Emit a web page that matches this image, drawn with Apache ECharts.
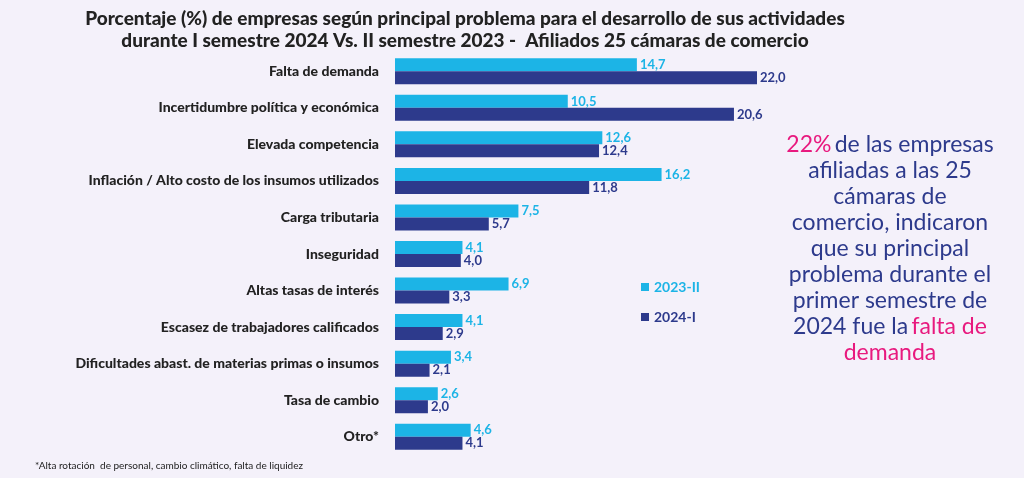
<!DOCTYPE html>
<html><head><meta charset="utf-8">
<script src="https://cdn.jsdelivr.net/npm/echarts@6/dist/echarts.min.js"></script>
<style>html,body{margin:0;padding:0;background:#f4f1fa}#c{width:1024px;height:478px}</style>
</head><body><div id="c"></div>
<script>
const categories=["Falta de demanda","Incertidumbre política y económica","Elevada competencia","Inflación / Alto costo de los insumos utilizados","Carga tributaria","Inseguridad","Altas tasas de interés","Escasez de trabajadores calificados","Dificultades abast. de materias primas o insumos","Tasa de cambio","Otro*"];
const s2023=[14.7,10.5,12.6,16.2,7.5,4.1,6.9,4.1,3.4,2.6,4.6];
const s2024=[22.0,20.6,12.4,11.8,5.7,4.0,3.3,2.9,2.1,2.0,4.1];
const C1='#1cb4e6',C2='#2d3a8c',PINK='#e8197e';
const fmt=p=>p.value.toFixed(1).replace('.',',');
const chart=echarts.init(document.getElementById('c'));
chart.setOption({
 backgroundColor:'#f4f1fa',
 title:{text:'Porcentaje (%) de empresas según principal problema para el desarrollo de sus actividades\ndurante I semestre 2024 Vs. II semestre 2023 -  Afiliados 25 cámaras de comercio',
  left:460,top:3,textAlign:'center',textStyle:{fontFamily:'Lato',fontWeight:900,fontSize:19,color:'#222',lineHeight:22}},
 legend:{orient:'vertical',left:636,top:275,itemWidth:8,itemHeight:8,itemGap:16,icon:'rect',
  textStyle:{fontFamily:'Lato',fontWeight:'bold',fontSize:14},data:[{name:'2023-II',textStyle:{color:C1}},{name:'2024-I',textStyle:{color:C2}}]},
 grid:{left:395,top:53,width:362*25/22,height:402},
 xAxis:{type:'value',min:0,max:25,show:false},
 yAxis:{type:'category',data:categories,inverse:true,axisLine:{show:false},axisTick:{show:false},
  axisLabel:{fontFamily:'Lato',fontWeight:900,fontSize:14,color:'#222',margin:16}},
 series:[
  {name:'2023-II',type:'bar',data:s2023,barWidth:13,barGap:'0%',itemStyle:{color:C1},
   label:{show:true,position:'right',distance:3,formatter:fmt,color:C1,fontFamily:'Lato',fontWeight:'bold',fontSize:13}},
  {name:'2024-I',type:'bar',data:s2024,barWidth:13,itemStyle:{color:C2},
   label:{show:true,position:'right',distance:3,formatter:fmt,color:C2,fontFamily:'Lato',fontWeight:'bold',fontSize:13}}
 ],
 graphic:[
  {type:'text',x:890,y:132,style:{align:'center',verticalAlign:'top',
   text:'{p|22%} {n|de las empresas}\n{n|afiliadas a las 25}\n{n|cámaras de}\n{n|comercio, indicaron}\n{n|que su principal}\n{n|problema durante el}\n{n|primer semestre de}\n{n|2024 fue la} {p|falta de}\n{p|demanda}',
   rich:{n:{fontFamily:'Lato',fontSize:23,fill:C2,lineHeight:26},p:{fontFamily:'Lato',fontSize:23,fill:PINK,lineHeight:26}}}},
  {type:'text',x:35,y:461,style:{text:'*Alta rotación  de personal, cambio climático, falta de liquidez',fontFamily:'Lato',fontSize:10,fill:'#222'}}
 ]
});
</script></body></html>
